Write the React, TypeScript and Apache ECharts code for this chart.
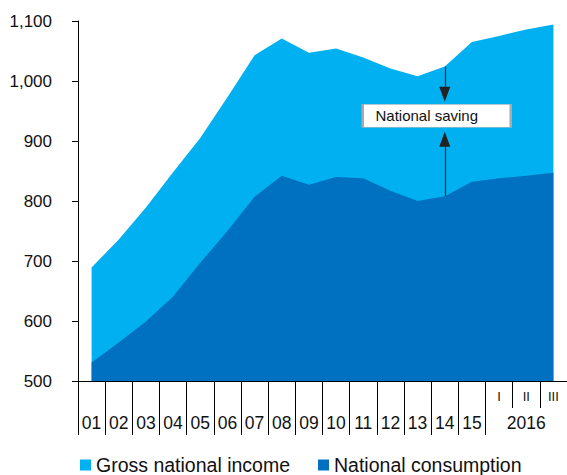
import React, { useEffect, useRef } from "react";
import * as echarts from "echarts";

const categories = ["01","02","03","04","05","06","07","08","09","10","11","12","13","14","15","I","II","III"];
const yearLabels = ["01","02","03","04","05","06","07","08","09","10","11","12","13","14","15","","2016",""];
const gni = [689, 736, 789, 848, 905, 973, 1043, 1071, 1047, 1054, 1039, 1021, 1008, 1024, 1065, 1075, 1086, 1094];
const consumption = [531, 564, 599, 641, 697, 750, 807, 842, 827, 840, 838, 817, 800, 808, 832, 838, 842, 847];
const seriesNames = ["Gross national income", "National consumption"];
const savingIndex = 13;
const savingLabel = "National saving";

const FONT = "Liberation Sans, Arial, sans-serif";
const LIGHT = "#00b0f0";
const DARK = "#0070c0";

export default function App() {
  const ref = useRef<HTMLDivElement>(null);
  useEffect(() => {
    document.body.style.margin = "0";
    const chart = echarts.init(ref.current!, null, { renderer: "svg" });
    const cat = categories[savingIndex];
    chart.setOption({
      animation: false,
      textStyle: { fontFamily: FONT },
      grid: { left: 78, right: -1, top: 21, bottom: 94, containLabel: false },
      legend: {
        left: 80,
        top: 455,
        padding: 0,
        icon: "rect",
        itemWidth: 11,
        itemHeight: 11,
        itemGap: 28,
        textStyle: { fontSize: 19.5, color: "#111", fontFamily: FONT },
        data: seriesNames,
      },
      xAxis: [
        {
          type: "category",
          data: categories,
          boundaryGap: true,
          axisLine: { show: true, lineStyle: { color: "#000", width: 1 } },
          axisTick: { show: true, length: 27, interval: 0, lineStyle: { color: "#000" } },
          axisLabel: {
            interval: 0,
            fontSize: 13,
            color: "#111",
            margin: 9,
            fontFamily: FONT,
            formatter: (v: string, i: number) => (i >= 15 ? v : ""),
          },
        },
        {
          type: "category",
          data: yearLabels,
          boundaryGap: true,
          position: "bottom",
          offset: 27,
          axisLine: { show: false },
          axisTick: {
            show: true,
            length: 27,
            interval: (i: number) => i <= 15,
            lineStyle: { color: "#000" },
          },
          axisLabel: { interval: 0, fontSize: 17.5, color: "#111", margin: 6, fontFamily: FONT },
        },
      ],
      yAxis: {
        type: "value",
        min: 500,
        max: 1100,
        interval: 100,
        axisLine: { show: true, lineStyle: { color: "#000", width: 1 } },
        axisTick: { show: true, length: 6, lineStyle: { color: "#000" } },
        splitLine: { show: false },
        axisLabel: {
          fontSize: 17,
          color: "#111",
          margin: 26,
          fontFamily: FONT,
          formatter: (v: number) => v.toLocaleString("en-US"),
        },
      },
      series: [
        {
          name: seriesNames[0],
          type: "line",
          data: gni,
          symbol: "none",
          lineStyle: { width: 0 },
          itemStyle: { color: LIGHT },
          areaStyle: { color: LIGHT, opacity: 1, origin: "start" },
        },
        {
          name: seriesNames[1],
          type: "line",
          data: consumption,
          symbol: "none",
          lineStyle: { width: 0 },
          itemStyle: { color: DARK },
          areaStyle: { color: DARK, opacity: 1, origin: "start" },
          markLine: {
            silent: true,
            symbol: ["none", "triangle"],
            symbolSize: [11, 15],
            label: { show: false },
            lineStyle: { color: "#222", width: 1.2, type: "solid" },
            data: [
              [{ coord: [cat, gni[savingIndex]] }, { coord: [cat, 978] }],
              [{ coord: [cat, consumption[savingIndex]] }, { coord: [cat, 903] }],
            ],
          },
          markPoint: {
            silent: true,
            symbol: "rect",
            symbolSize: [148, 23],
            symbolOffset: [-8, 0],
            itemStyle: { color: "#fff", borderColor: "#aaa", borderWidth: 1 },
            label: {
              show: true,
              position: "inside",
              formatter: savingLabel,
              color: "#111",
              fontSize: 15,
              fontFamily: FONT,
              offset: [-10, 0],
            },
            data: [{ coord: [cat, 942] }],
          },
        },
      ],
    });
    return () => chart.dispose();
  }, []);
  return <div ref={ref} style={{ width: 567, height: 475 }} />;
}
